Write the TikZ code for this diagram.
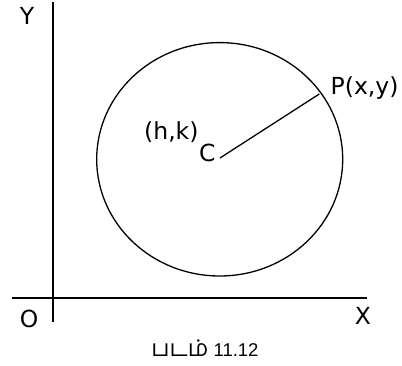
\documentclass[tikz,border=0pt]{standalone}
\usepackage{fontspec}
\setmainfont{DejaVu Sans}
\newfontfamily\tamilfont[Script=Tamil]{Hind Madurai}
\newfontfamily\capfont{Liberation Sans}
\begin{document}
\begin{tikzpicture}[x=1pt,y=-1pt,
  lbl/.style={inner sep=0pt,font=\fontsize{23.5}{28}\selectfont},
  axis/.style={line width=1.8pt},
  thin/.style={line width=1.3pt}]
\useasboundingbox (0,0) rectangle (402,366);
% axes
\coordinate (ytop) at (53.3,2);
\coordinate (ybot) at (53.3,322);
\coordinate (xl) at (12,298);
\coordinate (xr) at (367,298);
\draw[axis] (ytop) -- (ybot);
\draw[axis] (xl) -- (xr);
% circle
\coordinate (C) at (220,158);
\coordinate (P) at (319.3,94);
\draw[thin] (219.7,159.3) ellipse [x radius=123, y radius=116.7];
\draw[thin] (C) -- (P);
% labels
\node[lbl,anchor=base] (ylab) at (27,25) {Y};
\node[lbl,anchor=base] (olab) at (29,327.5) {O};
\node[lbl,anchor=base] (xlab) at (363,325) {X};
\node[lbl,anchor=base west] (plab) at (330.5,95) {P(x,y)};
\node[lbl,anchor=base west] (hk) at (144,140) {(h,k)};
\node[lbl,anchor=base west] (clab) at (199,162) {C};
\node[inner sep=0pt,anchor=base] (cap) at (205,356)
  {{\fontsize{23}{26}\selectfont\tamilfont படம்}\fontsize{18.5}{22}\selectfont\capfont{} 11.12};
\end{tikzpicture}
\end{document}
